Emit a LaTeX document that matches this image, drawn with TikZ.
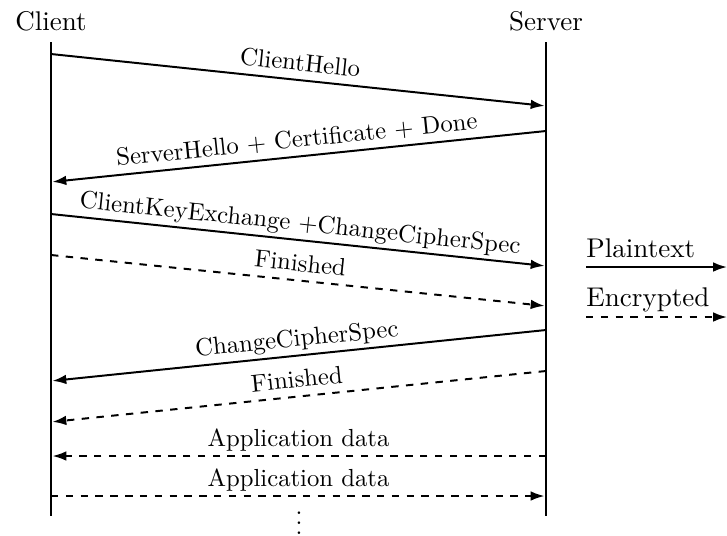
\documentclass[tikz,border=0pt]{standalone}
\usetikzlibrary{arrows.meta}
\begin{document}
\begin{tikzpicture}[x=0.4049pt,y=-0.4049pt,
  lifeline/.style={line width=1.2pt},
  tip/.style={-{Latex[length=5.6pt,width=3.9pt]}},
  msg/.style={thick,tip,shorten >=0.6pt},
  enc/.style={msg,dashed},
  lbl/.style={above,sloped,text depth=0pt,font=\fontsize{10}{12}\selectfont},
  actor/.style={anchor=base,inner sep=0pt,font=\fontsize{10.95}{13.6}\selectfont},
  keytext/.style={anchor=base west,inner sep=0pt,font=\fontsize{10.95}{13.6}\selectfont},
]
\useasboundingbox (0,0) rectangle (727,535);

% participants and their lifelines
\node[actor] (client) at (51,30) {Client};
\node[actor] (server) at (546,30) {Server};
\coordinate (ctop) at (51,42);
\coordinate (cbot) at (51,516);
\coordinate (stop) at (546,42);
\coordinate (sbot) at (546,516);
\draw[lifeline] (ctop) -- (cbot);
\draw[lifeline] (stop) -- (sbot);

% message end points on the client side
\coordinate (c1) at (51,54);
\coordinate (c2) at (51,182);
\coordinate (c3) at (51,214);
\coordinate (c4) at (51,255);
\coordinate (c5) at (51,381);
\coordinate (c6) at (51,422);
\coordinate (c7) at (51,456);
\coordinate (c8) at (51,496);
% message end points on the server side
\coordinate (s1) at (546,106);
\coordinate (s2) at (546,131);
\coordinate (s3) at (546,266);
\coordinate (s4) at (546,306);
\coordinate (s5) at (546,330);
\coordinate (s6) at (546,371);
\coordinate (s7) at (546,456);
\coordinate (s8) at (546,496);

% handshake
\draw[msg] (c1) -- node[lbl] {ClientHello} (s1);
\draw[msg] (s2) -- node[lbl] {ServerHello + Certificate + Done} (c2);
\draw[msg] (c3) -- node[lbl] {ClientKeyExchange +ChangeCipherSpec} (s3);
\draw[enc] (c4) -- node[lbl] {Finished} (s4);
\draw[msg] (s5) -- node[lbl] {ChangeCipherSpec} (c5);
\draw[enc] (s6) -- node[lbl] {Finished} (c6);
% application traffic
\draw[enc] (s7) -- node[lbl] {Application data} (c7);
\draw[enc] (c8) -- node[lbl] {Application data} (s8);

\node[inner sep=0pt,anchor=north] (more) at (299,497) {$\vdots$};

% key
\coordinate (p0) at (586,267);
\coordinate (p1) at (727,267);
\coordinate (e0) at (586,317);
\coordinate (e1) at (727,317);
\draw[thick,tip] (p0) -- (p1);
\draw[thick,dashed,tip] (e0) -- (e1);
\node[keytext] (plain) at (586,257) {Plaintext};
\node[keytext] (encr) at (586,306) {Encrypted};
\end{tikzpicture}
\end{document}
